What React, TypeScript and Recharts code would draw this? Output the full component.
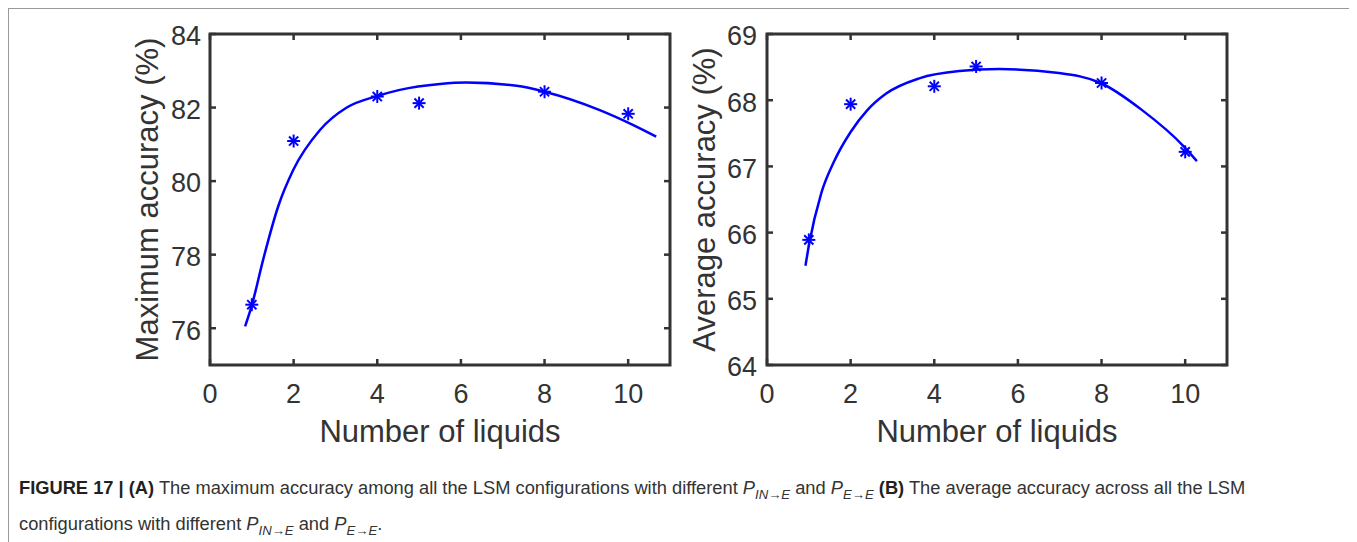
import { Label, Line, LineChart, ReferenceArea, XAxis, YAxis } from "recharts";

const xTicks = [0, 2, 4, 6, 8, 10];

// (A) maximum accuracy vs number of liquids
const maxTicks = [76, 78, 80, 82, 84];
const maxPoints = [
  { x: 1, y: 76.64 },
  { x: 2, y: 81.09 },
  { x: 4, y: 82.3 },
  { x: 5, y: 82.12 },
  { x: 8, y: 82.43 },
  { x: 10, y: 81.83 },
];
const maxFit = [
  { x: 0.84, y: 76.05 },
  { x: 1.0, y: 76.62 },
  { x: 1.27, y: 77.86 },
  { x: 1.63, y: 79.31 },
  { x: 1.99, y: 80.3 },
  { x: 2.63, y: 81.39 },
  { x: 3.27, y: 82.0 },
  { x: 4.02, y: 82.32 },
  { x: 4.54, y: 82.48 },
  { x: 5.5, y: 82.64 },
  { x: 6.13, y: 82.68 },
  { x: 7.33, y: 82.59 },
  { x: 8.0, y: 82.43 },
  { x: 9.32, y: 81.93 },
  { x: 10.11, y: 81.53 },
  { x: 10.67, y: 81.21 },
];

// (B) average accuracy vs number of liquids
const avgTicks = [64, 65, 66, 67, 68, 69];
const avgPoints = [
  { x: 1, y: 65.89 },
  { x: 2, y: 67.94 },
  { x: 4, y: 68.21 },
  { x: 5, y: 68.51 },
  { x: 8, y: 68.26 },
  { x: 10, y: 67.22 },
];
const avgFit = [
  { x: 0.92, y: 65.5 },
  { x: 1.0, y: 65.8 },
  { x: 1.3, y: 66.6 },
  { x: 1.6, y: 67.07 },
  { x: 2.0, y: 67.52 },
  { x: 2.4, y: 67.85 },
  { x: 2.85, y: 68.1 },
  { x: 3.64, y: 68.33 },
  { x: 4.6, y: 68.44 },
  { x: 5.55, y: 68.47 },
  { x: 6.98, y: 68.41 },
  { x: 7.98, y: 68.26 },
  { x: 8.97, y: 67.85 },
  { x: 9.97, y: 67.3 },
  { x: 10.28, y: 67.08 },
];

const AXIS = "#333";
const BLUE = "#0000ff";
const FONT = "'Liberation Sans', Arial, Helvetica, sans-serif";
const TOP = 25;
const PLOT_W = 460;
const PLOT_H = 331;
const CHART_H = 440;

function Star(props: any) {
  const { cx, cy, index } = props;
  if (cx == null || cy == null) return <g key={`s-${index}`} />;
  const r = 6.5;
  const d = 4.6;
  return (
    <g key={`s-${index}`} stroke={BLUE} strokeWidth={2}>
      <line x1={cx - r} y1={cy} x2={cx + r} y2={cy} />
      <line x1={cx} y1={cy - r} x2={cx} y2={cy + r} />
      <line x1={cx - d} y1={cy - d} x2={cx + d} y2={cy + d} />
      <line x1={cx - d} y1={cy + d} x2={cx + d} y2={cy - d} />
    </g>
  );
}

// bottom labels plus inward ticks on bottom and top edges
function XTick(props: any) {
  const { x, y, payload } = props;
  return (
    <g>
      <line x1={x} y1={y} x2={x} y2={y - 6} stroke={AXIS} strokeWidth={2.5} />
      <line x1={x} y1={TOP} x2={x} y2={TOP + 6} stroke={AXIS} strokeWidth={2.5} />
      <text x={x} y={y + 38} textAnchor="middle" fontSize={27} fontFamily={FONT} fill={AXIS}>
        {payload.value}
      </text>
    </g>
  );
}

function makeYTick(gap: number) {
  return function YTick(props: any) {
    const { x, y, payload } = props;
    return (
      <g>
        <line x1={x} y1={y} x2={x + 6} y2={y} stroke={AXIS} strokeWidth={2.5} />
        <line x1={x + PLOT_W} y1={y} x2={x + PLOT_W - 6} y2={y} stroke={AXIS} strokeWidth={2.5} />
        <text x={x - gap} y={y} dy="0.42em" textAnchor="end" fontSize={27} fontFamily={FONT} fill={AXIS}>
          {payload.value}
        </text>
      </g>
    );
  };
}

function Panel({
  width,
  yAxisWidth,
  points,
  fit,
  domain,
  ticks,
  title,
  titleX,
  tickGap,
}: {
  width: number;
  yAxisWidth: number;
  points: { x: number; y: number }[];
  fit: { x: number; y: number }[];
  domain: [number, number];
  ticks: number[];
  title: string;
  titleX: number;
  tickGap: number;
}) {
  const right = width - yAxisWidth - PLOT_W;
  return (
    <LineChart
      width={width}
      height={CHART_H}
      margin={{ top: TOP, right, bottom: 0, left: 0 }}
    >
      <XAxis
        dataKey="x"
        type="number"
        domain={[0, 11]}
        ticks={xTicks}
        allowDataOverflow
        axisLine={false}
        tickLine={false}
        tickSize={0}
        tickMargin={0}
        height={CHART_H - TOP - PLOT_H}
        tick={<XTick />}
        interval={0}
      >
        <Label
          content={(p: any) => {
            const vb = p.viewBox;
            return (
              <text
                x={vb.x + vb.width / 2}
                y={vb.y + 77}
                textAnchor="middle"
                fontSize={31}
                fontFamily={FONT}
                fill={AXIS}
              >
                Number of liquids
              </text>
            );
          }}
        />
      </XAxis>
      <YAxis
        type="number"
        domain={domain}
        ticks={ticks}
        allowDataOverflow
        axisLine={false}
        tickLine={false}
        tickSize={0}
        tickMargin={0}
        width={yAxisWidth}
        tick={makeYTick(tickGap)}
        interval={0}
      >
        <Label
          content={(p: any) => {
            const vb = p.viewBox;
            const cx = vb.x + titleX;
            const cy = vb.y + vb.height / 2;
            return (
              <text
                x={cx}
                y={cy}
                transform={`rotate(-90 ${cx} ${cy})`}
                textAnchor="middle"
                fontSize={31}
                fontFamily={FONT}
                fill={AXIS}
              >
                {title}
              </text>
            );
          }}
        />
      </YAxis>
      <ReferenceArea
        x1={0}
        x2={11}
        y1={domain[0]}
        y2={domain[1]}
        fill="none"
        fillOpacity={0}
        stroke={AXIS}
        strokeWidth={3}
      />
      <Line
        data={fit}
        dataKey="y"
        type="monotone"
        stroke={BLUE}
        strokeWidth={2.5}
        dot={false}
        activeDot={false}
        isAnimationActive={false}
      />
      <Line
        data={points}
        dataKey="y"
        stroke="none"
        dot={Star}
        activeDot={false}
        isAnimationActive={false}
      />
    </LineChart>
  );
}

const subStyle = { fontSize: "0.72em", verticalAlign: "-0.35em", lineHeight: 0 } as const;

export default function App() {
  return (
    <div
      style={{
        position: "relative",
        width: 1341,
        height: 534,
        borderTop: "1px solid #999",
        borderLeft: "1px solid #999",
        borderRight: "1px solid #999",
        background: "#fff",
      }}
    >
      <div style={{ position: "absolute", left: 0, top: 0 }}>
        <Panel
          width={680}
          yAxisWidth={201}
          points={maxPoints}
          fit={maxFit}
          domain={[75, 84]}
          ticks={maxTicks}
          title="Maximum accuracy (%)"
          titleX={149}
          tickGap={9}
        />
      </div>
      <div style={{ position: "absolute", left: 660, top: 0 }}>
        <Panel
          width={600}
          yAxisWidth={98}
          points={avgPoints}
          fit={avgFit}
          domain={[64, 69]}
          ticks={avgTicks}
          title="Average accuracy (%)"
          titleX={46}
          tickGap={10}
        />
      </div>
      <div
        style={{
          position: "absolute",
          left: 10,
          top: 461,
          fontFamily: "'Liberation Sans Narrow', 'Liberation Sans', Arial, sans-serif",
          fontSize: 18.3,
          lineHeight: "36px",
          color: "#333",
          whiteSpace: "nowrap",
        }}
      >
        <b style={{ color: "#231f20" }}>FIGURE 17 | (A)</b> The maximum accuracy among all the LSM
        configurations with different <i>P</i>
        <sub style={subStyle}>
          <i>IN→E</i>
        </sub>{" "}
        and <i>P</i>
        <sub style={subStyle}>
          <i>E→E</i>
        </sub>{" "}
        <b style={{ color: "#231f20" }}>(B)</b> The average accuracy across all the LSM
        <br />
        configurations with different <i>P</i>
        <sub style={subStyle}>
          <i>IN→E</i>
        </sub>{" "}
        and <i>P</i>
        <sub style={subStyle}>
          <i>E→E</i>
        </sub>
        .
      </div>
    </div>
  );
}
